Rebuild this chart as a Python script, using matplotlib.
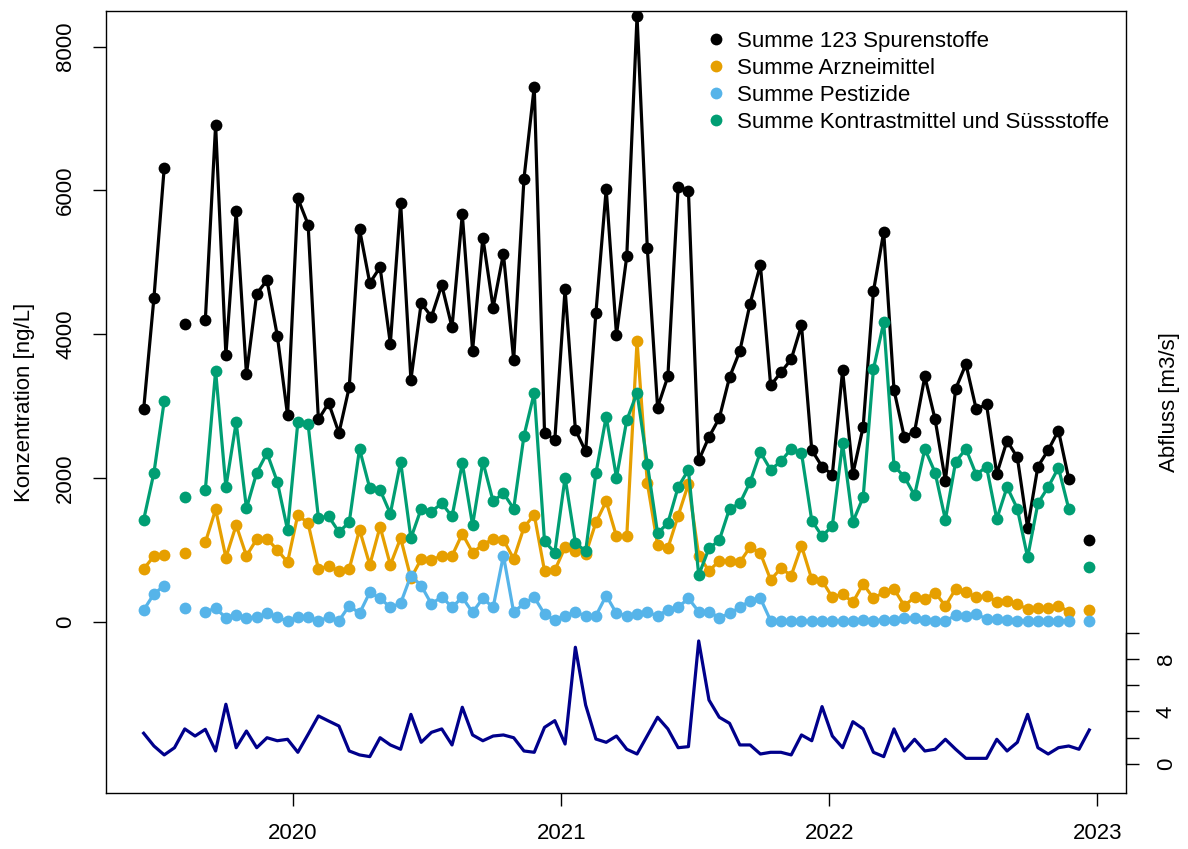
import matplotlib
matplotlib.use("Agg")
import matplotlib.pyplot as plt
import matplotlib.dates as mdates
import numpy as np
from matplotlib.lines import Line2D

plt.rcParams['font.family'] = ['Liberation Sans', 'DejaVu Sans']

nan = np.nan

# sampling dates (every second week)
dates = np.array([
    "2019-06-12", "2019-06-26", "2019-07-10", "2019-07-24", "2019-08-07", "2019-08-21",
    "2019-09-04", "2019-09-18", "2019-10-02", "2019-10-16", "2019-10-30", "2019-11-13",
    "2019-11-27", "2019-12-11", "2019-12-25", "2020-01-08", "2020-01-22", "2020-02-05",
    "2020-02-19", "2020-03-04", "2020-03-18", "2020-04-01", "2020-04-15", "2020-04-29",
    "2020-05-13", "2020-05-27", "2020-06-10", "2020-06-24", "2020-07-08", "2020-07-22",
    "2020-08-05", "2020-08-19", "2020-09-02", "2020-09-16", "2020-09-30", "2020-10-14",
    "2020-10-28", "2020-11-11", "2020-11-25", "2020-12-09", "2020-12-23", "2021-01-06",
    "2021-01-20", "2021-02-03", "2021-02-17", "2021-03-03", "2021-03-17", "2021-03-31",
    "2021-04-14", "2021-04-28", "2021-05-12", "2021-05-26", "2021-06-09", "2021-06-23",
    "2021-07-07", "2021-07-21", "2021-08-04", "2021-08-18", "2021-09-01", "2021-09-15",
    "2021-09-29", "2021-10-13", "2021-10-27", "2021-11-10", "2021-11-24", "2021-12-08",
    "2021-12-22", "2022-01-05", "2022-01-19", "2022-02-02", "2022-02-16", "2022-03-02",
    "2022-03-16", "2022-03-30", "2022-04-13", "2022-04-27", "2022-05-11", "2022-05-25",
    "2022-06-08", "2022-06-22", "2022-07-06", "2022-07-20", "2022-08-03", "2022-08-17",
    "2022-08-31", "2022-09-14", "2022-09-28", "2022-10-12", "2022-10-26", "2022-11-09",
    "2022-11-23", "2022-12-07", "2022-12-21"], dtype="datetime64[D]")

summe_123 = [2956, 4507, 6318, nan, 4136, nan, 4198, 6910, 3709, 5708,
             3441, 4564, 4751, 3982, 2871, 5890, 5526, 2814, 3042, 2626,
             3264, 5463, 4711, 4933, 3868, 5828, 3366, 4432, 4244, 4683,
             4096, 5668, 3771, 5344, 4370, 5121, 3640, 6164, 7446, 2632,
             2529, 4631, 2672, 2370, 4296, 6021, 3993, 5082, 8426, 5195,
             2980, 3412, 6045, 5993, 2245, 2570, 2832, 3401, 3765, 4426,
             4967, 3287, 3469, 3651, 4124, 2387, 2159, 2045, 3498, 2056,
             2712, 4597, 5423, 3224, 2570, 2643, 3412, 2814, 1960, 3241,
             3583, 2956, 3025, 2056, 2518, 2285, 1305, 2159, 2387, 2660,
             1988, nan, 1133]

arznei = [735, 912, 931, nan, 954, nan, 1103, 1563, 893, 1344,
          916, 1149, 1154, 1000, 828, 1489, 1368, 735, 772, 707,
          735, 1280, 791, 1322, 791, 1163, 605, 870, 861, 916,
          916, 1224, 963, 1070, 1154, 1140, 875, 1312, 1489, 707,
          716, 1037, 986, 940, 1382, 1675, 1186, 1186, 3905, 1930,
          1070, 1023, 1475, 1917, 921, 707, 847, 847, 828, 1037,
          954, 582, 744, 642, 1056, 591, 572, 340, 386, 270,
          526, 326, 409, 456, 223, 340, 316, 405, 219, 456,
          409, 340, 363, 279, 293, 242, 177, 186, 186, 223,
          140, nan, 163]

pestizide = [163, 386, 502, nan, 186, nan, 140, 186, 56, 93,
             56, 60, 116, 60, 10, 60, 60, 14, 60, 14,
             223, 116, 409, 326, 200, 256, 642, 502, 246, 349,
             200, 340, 130, 326, 200, 921, 130, 256, 340, 107,
             23, 84, 130, 84, 84, 363, 116, 84, 107, 130,
             84, 163, 200, 326, 140, 140, 56, 116, 200, 293,
             326, 14, 5, 14, 14, 5, 14, 5, 15, 15,
             20, 15, 30, 30, 50, 50, 30, 15, 5, 95,
             85, 105, 40, 40, 30, 15, 15, 5, 15, 15,
             15, nan, 15]

kontrast = [1418, 2074, 3070, nan, 1732, nan, 1834, 3492, 1874, 2774,
            1578, 2074, 2347, 1948, 1276, 2774, 2746, 1447, 1464, 1248,
            1384, 2404, 1857, 1834, 1504, 2227, 1162, 1572, 1532, 1647,
            1464, 2205, 1344, 2227, 1675, 1789, 1572, 2586, 3185, 1117,
            963, 2005, 1100, 980, 2063, 2854, 2005, 2803, 3185, 2199,
            1231, 1373, 1874, 2113, 649, 1020, 1133, 1572, 1647, 1943,
            2359, 2113, 2233, 2404, 2347, 1407, 1191, 1333, 2484, 1390,
            1732, 3515, 4165, 2170, 2017, 1760, 2404, 2074, 1418, 2227,
            2404, 2045, 2159, 1429, 1874, 1572, 895, 1647, 1874, 2142,
            1572, nan, 763]

abfluss = [2.34, 1.37, 0.69, 1.24, 2.67, 2.13, 2.64, 0.99, 4.55, 1.24,
           2.51, 1.24, 2.00, 1.77, 1.88, 0.89, 2.26, 3.66, 3.27, 2.89,
           0.99, 0.69, 0.56, 2.00, 1.45, 1.12, 3.78, 1.65, 2.41, 2.67,
           1.45, 4.32, 2.21, 1.77, 2.13, 2.21, 2.00, 0.99, 0.89, 2.79,
           3.30, 1.52, 8.89, 4.49, 1.90, 1.65, 2.13, 1.12, 0.76, 2.16,
           3.56, 2.67, 1.24, 1.32, 9.37, 4.87, 3.56, 3.10, 1.45, 1.45,
           0.76, 0.89, 0.89, 0.69, 2.21, 1.77, 4.37, 2.13, 1.24, 3.22,
           2.67, 0.89, 0.56, 2.67, 0.99, 1.88, 0.99, 1.12, 1.88, 1.12,
           0.43, 0.43, 0.43, 1.88, 0.99, 1.65, 3.78, 1.24, 0.76, 1.24,
           1.37, 1.12, 2.59]

series_labels = ["Summe 123 Spurenstoffe", "Summe Arzneimittel",
                 "Summe Pestizide", "Summe Kontrastmittel und Süssstoffe"]
series_colors = ["black", "#E69F00", "#56B4E9", "#009E73"]
year_ticks = ["2020", "2021", "2022", "2023"]

W, H = 1188, 849
fig = plt.figure(figsize=(W / 100, H / 100), dpi=100)
ax = fig.add_axes([106 / W, 1 - 793 / H, 1020 / W, (793 - 10.7) / H])

x = mdates.date2num(dates)
for vals, col in zip([summe_123, arznei, pestizide, kontrast], series_colors):
    ax.plot(x, vals, "-o", color=col, lw=2.3, ms=8.5, mew=0)

base = mdates.date2num(np.datetime64("2020-01-01"))
ax.set_xlim(base - 254.3, base + 1135)
ax.set_ylim(-2383, 8501)

ax.set_xticks([mdates.date2num(np.datetime64(y + "-01-01")) for y in year_ticks])
ax.set_xticklabels(year_ticks)
ax.set_yticks([0, 2000, 4000, 6000, 8000])
ax.set_yticklabels(["0", "2000", "4000", "6000", "8000"], rotation=90, va="center")
ax.tick_params(axis="both", labelsize=16, length=9.4, width=1.0, pad=12)
for s in ax.spines.values():
    s.set_linewidth(1.0)

ax2 = ax.twinx()
ax2.plot(x, abfluss, color="#00008B", lw=2.3)
ax2.set_ylim(-2.21, 57.37)
ax2.set_yticks([0, 2, 4, 6, 8, 10])
ax2.set_yticklabels(["0", "", "4", "", "8", ""], rotation=90, va="center")
ax2.tick_params(axis="y", labelsize=16, length=9.4, width=1.0, pad=12)
ax2.spines["right"].set_bounds(0, 10)
for name in ["left", "top", "bottom"]:
    ax2.spines[name].set_visible(False)
ax2.spines["right"].set_linewidth(1.0)

handles = [Line2D([], [], marker="o", ls="none", color=c, ms=8.5, mew=0) for c in series_colors]
ax2.legend(handles, series_labels, loc="upper left",
           bbox_to_anchor=(705 / W, 1 - 31 / H), bbox_transform=fig.transFigure,
           frameon=False, borderpad=0, borderaxespad=0, handlelength=1.0,
           handletextpad=0.45, labelspacing=0.27, fontsize=16)

fig.text(25 / W, 1 - 402 / H, "Konzentration [ng/L]", rotation=90,
         ha="center", va="center", fontsize=16)
fig.text(1169 / W, 1 - 402 / H, "Abfluss [m3/s]", rotation=90,
         ha="center", va="center", fontsize=16)

fig.savefig("out.png", dpi=100)
